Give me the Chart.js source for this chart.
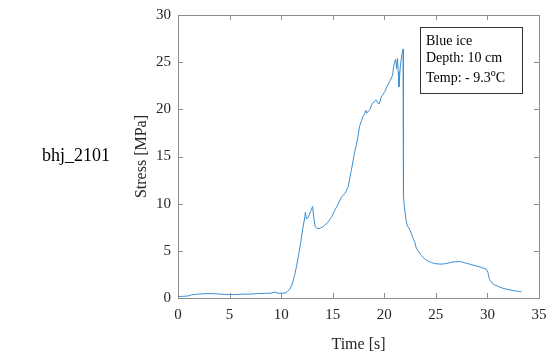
<!DOCTYPE html>
<html>
<head>
<meta charset="utf-8">
<script src="https://cdn.jsdelivr.net/npm/chart.js@4/dist/chart.umd.min.js"></script>
<style>
  html, body { margin: 0; padding: 0; background: #fff; }
  #wrap { position: relative; width: 550px; height: 360px; }
</style>
</head>
<body>
<div id="wrap"><canvas id="stressChart" width="550" height="360"></canvas></div>
<script>
// Compression test bhj_2101: stress against time
var timeValues = [
  0.0, 0.5, 1.0, 1.3, 1.8, 2.5, 3.2, 4.0, 4.9, 5.6, 6.3, 7.1, 7.8, 8.5, 9.0, 9.4, 9.6, 10.0,
  10.35, 10.6, 10.85, 11.05, 11.3, 11.5, 11.7, 11.9, 12.1, 12.3, 12.35, 12.45, 12.6, 12.75, 12.9,
  13.05, 13.15, 13.3, 13.5, 13.8, 14.1, 14.5, 14.9, 15.2, 15.5, 15.85, 16.2, 16.5, 16.8, 17.1,
  17.3, 17.45, 17.6, 17.8, 17.95, 18.1, 18.2, 18.3, 18.45, 18.6, 18.8, 19.0, 19.2, 19.35, 19.5,
  19.7, 19.9, 20.05, 20.3, 20.6, 20.8, 20.9, 21.0, 21.1, 21.2, 21.28, 21.35, 21.42, 21.55, 21.7,
  21.82, 21.86, 21.95, 22.1, 22.25, 22.4, 22.6, 22.8, 22.95, 23.1, 23.35, 23.6, 23.9, 24.25,
  24.6, 24.9, 25.3, 25.7, 26.2, 26.6, 27.0, 27.4, 27.9, 28.4, 28.9, 29.4, 29.9, 30.05, 30.2,
  30.45, 30.7, 31.1, 31.5, 32.0, 32.5, 33.0, 33.3
];
var stressValues = [
  0.15, 0.18, 0.22, 0.33, 0.40, 0.45, 0.47, 0.42, 0.36, 0.38, 0.40, 0.42, 0.47, 0.50, 0.52, 0.62, 0.52, 0.50,
  0.52, 0.68, 0.95, 1.4, 2.4, 3.4, 4.6, 5.9, 7.4, 8.6, 9.1, 8.4, 8.5, 8.9, 9.3,
  9.7, 8.6, 7.6, 7.35, 7.4, 7.6, 8.0, 8.6, 9.3, 9.9, 10.7, 11.1, 11.8, 13.5, 15.3,
  16.3, 17.1, 18.2, 18.8, 19.3, 19.5, 19.9, 19.6, 19.8, 20.0, 20.5, 20.8, 21.0, 20.7, 20.55,
  21.3, 21.6, 21.9, 22.5, 23.1, 23.6, 24.5, 25.0, 25.3, 24.3, 25.4, 24.0, 22.4, 24.5, 25.8,
  26.4, 10.8, 9.6, 8.3, 7.6, 7.4, 6.9, 6.3, 5.95, 5.3, 4.9, 4.5, 4.15, 3.9,
  3.75, 3.65, 3.6, 3.6, 3.7, 3.8, 3.85, 3.85, 3.7, 3.55, 3.4, 3.25, 3.05, 2.7, 1.95,
  1.6, 1.38, 1.2, 1.03, 0.9, 0.78, 0.7, 0.65
];
var timeTicks = [0, 5, 10, 15, 20, 25, 30, 35];
var stressTicks = [0, 5, 10, 15, 20, 25, 30];
var noteLines = ["Blue ice", "Depth: 10 cm", "Temp: - 9.3"];

var serif = "'Liberation Serif', 'Times New Roman', serif";
var axisColor = "#8c8c8c";
var textColor = "#262626";

var points = timeValues.map(function (t, i) { return { x: t, y: stressValues[i] }; });

// box around the axes with inward ticks on all four sides, plus the sample label and note box
var decorations = {
  id: "decorations",
  afterDraw: function (chart) {
    var ctx = chart.ctx;
    var a = chart.chartArea;
    var xs = chart.scales.x, ys = chart.scales.y;
    var tl = 5;
    ctx.save();
    ctx.strokeStyle = axisColor;
    ctx.lineWidth = 1;
    ctx.strokeRect(Math.round(a.left) + 0.5, Math.round(a.top) + 0.5,
                   Math.round(a.right - a.left), Math.round(a.bottom - a.top));
    ctx.beginPath();
    timeTicks.forEach(function (v) {
      var px = Math.round(xs.getPixelForValue(v)) + 0.5;
      ctx.moveTo(px, a.bottom); ctx.lineTo(px, a.bottom - tl);
      ctx.moveTo(px, a.top); ctx.lineTo(px, a.top + tl);
    });
    stressTicks.forEach(function (v) {
      var py = Math.round(ys.getPixelForValue(v)) + 0.5;
      ctx.moveTo(a.left, py); ctx.lineTo(a.left + tl, py);
      ctx.moveTo(a.right, py); ctx.lineTo(a.right - tl, py);
    });
    ctx.stroke();

    // sample name
    ctx.fillStyle = "#000";
    ctx.font = "18px " + serif;
    ctx.textAlign = "left";
    ctx.textBaseline = "alphabetic";
    ctx.fillText("bhj_2101", 42, 161);

    // note box
    var bx = 420, by = 27, bw = 102, bh = 66;
    ctx.fillStyle = "#fff";
    ctx.fillRect(bx, by, bw, bh);
    ctx.strokeStyle = "#333";
    ctx.strokeRect(bx + 0.5, by + 0.5, bw, bh);
    ctx.fillStyle = "#000";
    ctx.font = "14px " + serif;
    ctx.fillText(noteLines[0], 426, 45);
    ctx.fillText(noteLines[1], 426, 62);
    ctx.fillText(noteLines[2], 426, 82);
    var w = ctx.measureText(noteLines[2]).width;
    ctx.font = "10px " + serif;
    ctx.fillText("o", 426 + w, 76);
    var wo = ctx.measureText("o").width;
    ctx.font = "14px " + serif;
    ctx.fillText("C", 426 + w + wo, 82);
    ctx.restore();
  }
};

new Chart("stressChart", {
  type: "line",
  data: {
    datasets: [{
      data: points,
      borderColor: "#3b8ed3",
      borderWidth: 1,
      pointRadius: 0,
      tension: 0,
      fill: false
    }]
  },
  options: {
    responsive: false,
    animation: false,
    layout: { padding: { left: 120, top: 15, right: 11, bottom: 0 } },
    plugins: { legend: { display: false }, tooltip: { enabled: false } },
    scales: {
      x: {
        type: "linear",
        min: 0, max: 35,
        afterFit: function (s) { s.height = 62; },
        afterBuildTicks: function (s) { s.ticks = timeTicks.map(function (v) { return { value: v }; }); },
        border: { display: false },
        grid: { display: false },
        ticks: { color: textColor, font: { family: serif, size: 15 }, padding: 0, maxRotation: 0 },
        title: { display: true, text: "Time [s]", color: textColor, font: { family: serif, size: 16 }, padding: { top: 0, bottom: 6 } }
      },
      y: {
        min: 0, max: 30,
        afterFit: function (s) { s.width = 58; },
        afterBuildTicks: function (s) { s.ticks = stressTicks.map(function (v) { return { value: v }; }); },
        border: { display: false },
        grid: { display: false },
        ticks: { color: textColor, font: { family: serif, size: 15 }, padding: -1 },
        title: { display: true, text: "Stress [MPa]", color: textColor, font: { family: serif, size: 16 }, padding: { top: 12, bottom: 0 } }
      }
    }
  },
  plugins: [decorations]
});
</script>
</body>
</html>
